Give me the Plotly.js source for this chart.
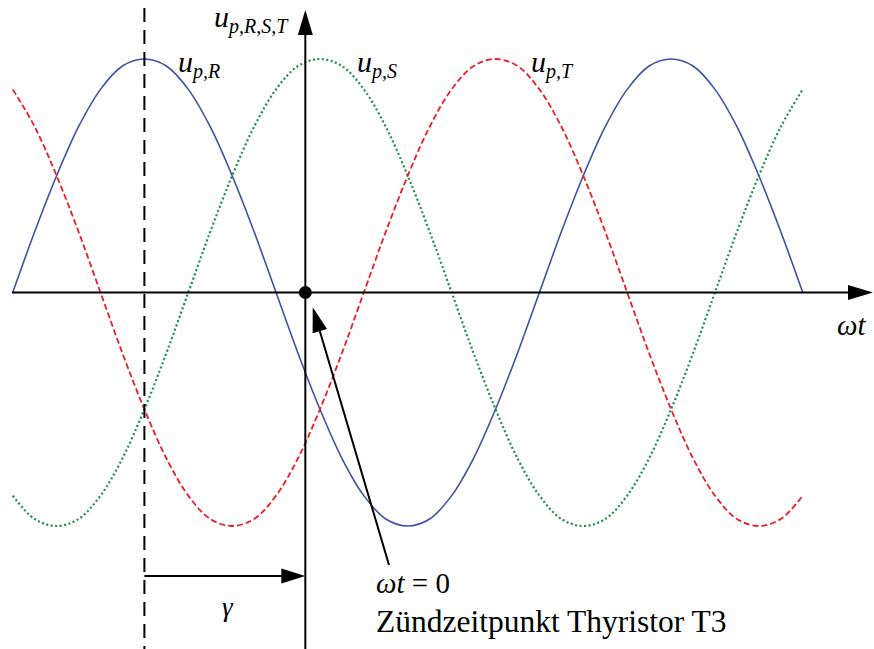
<!DOCTYPE html>
<html>
<head>
<meta charset="utf-8">
<script src="https://cdn.plot.ly/plotly-3.0.1.min.js"></script>
<style>
  html, body { margin: 0; padding: 0; background: #ffffff; }
  #plot { width: 874px; height: 649px; }
</style>
</head>
<body>
<div id="plot"></div>
<script>
// Phase angle ωt in degrees (ωt = 0 at the firing instant of thyristor T3)
const omegaT = [-200, -185, -170, -155, -140, -125, -110, -95, -80, -65, -50, -35,
  -20, -5, 10, 25, 40, 55, 70, 85, 100, 115, 130, 145, 160, 175, 190, 205, 220,
  235, 250, 265, 280, 295, 310, 325, 340];

// Normalised phase voltages u_p,R / u_p,S / u_p,T
const uR = [0, 0.26, 0.5, 0.71, 0.87, 0.97, 1, 0.97, 0.87, 0.71, 0.5, 0.26, 0,
  -0.26, -0.5, -0.71, -0.87, -0.97, -1, -0.97, -0.87, -0.71, -0.5, -0.26, 0,
  0.26, 0.5, 0.71, 0.87, 0.97, 1, 0.97, 0.87, 0.71, 0.5, 0.26, 0];
const uS = [-0.87, -0.97, -1, -0.97, -0.87, -0.71, -0.5, -0.26, 0, 0.26, 0.5,
  0.71, 0.87, 0.97, 1, 0.97, 0.87, 0.71, 0.5, 0.26, 0, -0.26, -0.5, -0.71,
  -0.87, -0.97, -1, -0.97, -0.87, -0.71, -0.5, -0.26, 0, 0.26, 0.5, 0.71, 0.87];
const uT = [0.87, 0.71, 0.5, 0.26, 0, -0.26, -0.5, -0.71, -0.87, -0.97, -1,
  -0.97, -0.87, -0.71, -0.5, -0.26, 0, 0.26, 0.5, 0.71, 0.87, 0.97, 1, 0.97,
  0.87, 0.71, 0.5, 0.26, 0, -0.26, -0.5, -0.71, -0.87, -0.97, -1, -0.97, -0.87];

// Curve labels
const phaseLabels = ['p,R', 'p,S', 'p,T'];
const phaseLabelX = [-88.6, 33.8, 152.7];
const gammaAngle = -110;   // peak of u_p,R, start of the delay angle γ

const W = 874, H = 649;
const xRange = [-208.7, 388.7];
const yRange = [-1.5268, 1.2527];
const pxX = W / (xRange[1] - xRange[0]);
const pxY = H / (yRange[1] - yRange[0]);

const SERIF = 'Liberation Serif';

// Filled slim arrowhead drawn in pixel units, anchored at the tip
function arrow(tailX, tailY, tipX, tipY, len, wid) {
  let dx = (tailX - tipX) * pxX, dy = (tailY - tipY) * pxY;
  const n = Math.hypot(dx, dy); dx /= n; dy /= n;
  const bx = dx * len, by = dy * len;
  const px = -dy * wid / 2, py = dx * wid / 2;
  const head = {
    type: 'path', xref: 'x', yref: 'y',
    xsizemode: 'pixel', ysizemode: 'pixel', xanchor: tipX, yanchor: tipY,
    path: `M0,0 L${(bx + px).toFixed(2)},${(by + py).toFixed(2)} L${(bx - px).toFixed(2)},${(by - py).toFixed(2)} Z`,
    fillcolor: '#000', line: { width: 0 }
  };
  const shaft = {
    type: 'line', xref: 'x', yref: 'y',
    x0: tailX, y0: tailY,
    x1: tipX + bx * 0.9 / pxX, y1: tipY + by * 0.9 / pxY,
    line: { color: '#000', width: 2 }
  };
  return [shaft, head];
}

const traces = [
  { x: omegaT, y: uR, mode: 'lines', line: { color: '#3c53a4', width: 1.6, shape: 'spline' }, hoverinfo: 'skip' },
  { x: omegaT, y: uS, mode: 'lines', line: { color: '#17904c', width: 2.2, dash: '2px,2.5px', shape: 'spline' }, hoverinfo: 'skip' },
  { x: omegaT, y: uT, mode: 'lines', line: { color: '#ee1c25', width: 1.8, dash: '6px,3px', shape: 'spline' }, hoverinfo: 'skip' },
  { x: [0], y: [0], mode: 'markers', marker: { color: '#000', size: 13 }, hoverinfo: 'skip' }
];

const shapes = [
  // delay-angle reference line
  { type: 'line', xref: 'x', yref: 'y', x0: gammaAngle, x1: gammaAngle, y0: 1.218, y1: yRange[0],
    line: { color: '#000', width: 2, dash: '14px,8px' } },
  ...arrow(-200.5, 0, 388.0, 0, 25, 15),            // ωt axis
  ...arrow(0, yRange[0], 0, 1.2099, 25, 15),        // u axis
  ...arrow(gammaAngle, -1.214, 0, -1.214, 24, 15),  // γ
  ...arrow(57.2, -1.167, 5.06, -0.063, 25, 15)      // pointer to ωt = 0
];

const txt = (text, x, y, size, extra) => Object.assign({
  x, y, xref: 'x', yref: 'y', text, showarrow: false,
  xanchor: 'left', yanchor: 'middle',
  font: { family: SERIF, size, color: '#000' }
}, extra || {});

// italic u with a subscript index
const uLabel = s => `<i>u<sub><span style="font-size:20px">${s}</span></sub></i>`;

const annotations = [
  txt(uLabel('p,R,S,T'), -64.0, 1.172, 30),
  ...phaseLabels.map((s, i) => txt(uLabel(s), phaseLabelX[i], 0.98, 30)),
  txt('<i>ωt</i>', 362.1, -0.139, 29),
  txt('<i>ωt</i> = 0', 47.0, -1.244, 29),
  txt('Zündzeitpunkt Thyristor T3', 46.8, -1.411, 31.5),
  txt('<i>γ</i>', -52.8, -1.347, 27, { xanchor: 'center' })
];

const layout = {
  width: W, height: H,
  margin: { l: 0, r: 0, t: 0, b: 0 },
  paper_bgcolor: '#fff', plot_bgcolor: '#fff',
  font: { family: SERIF },
  showlegend: false,
  xaxis: { range: xRange, visible: false, fixedrange: true },
  yaxis: { range: yRange, visible: false, fixedrange: true },
  shapes, annotations
};

Plotly.newPlot('plot', traces, layout, { staticPlot: true, displayModeBar: false });
</script>
</body>
</html>
